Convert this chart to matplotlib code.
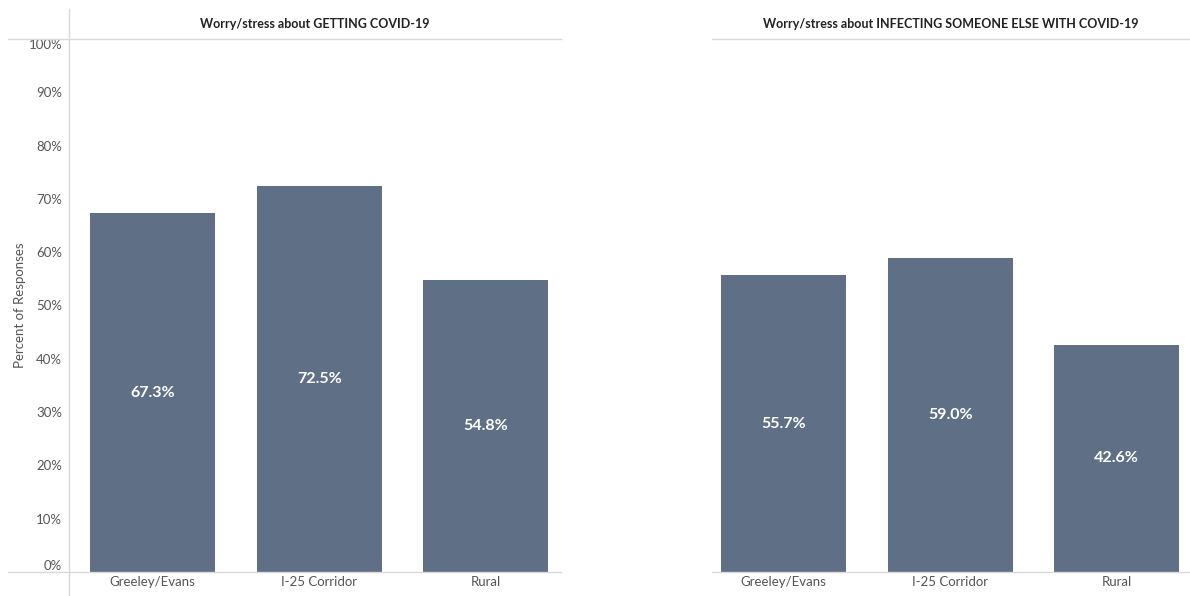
import matplotlib.pyplot as plt
from matplotlib.lines import Line2D
from matplotlib.ticker import PercentFormatter

plt.rcParams['font.family'] = ['Lato', 'DejaVu Sans']

regions = ['Greeley/Evans', 'I-25 Corridor', 'Rural']
getting_covid = [67.3, 72.5, 54.8]
infecting_others = [55.7, 59.0, 42.6]
titles = ['Worry/stress about GETTING COVID-19',
          'Worry/stress about INFECTING SOMEONE ELSE WITH COVID-19']
y_ticks = [0, 10, 20, 30, 40, 50, 60, 70, 80, 90, 100]

bar_color = '#5f6f86'
line_color = '#d9d9d9'
text_color = '#555555'

W, H = 1190, 596
fig = plt.figure(figsize=(W / 100, H / 100), dpi=100)

def px(x, y):
    return x / W, 1 - y / H

top, bottom = 39, 572
left_ax = fig.add_axes([69 / W, 1 - bottom / H, (561 - 69) / W, (bottom - top) / H])
right_ax = fig.add_axes([712 / W, 1 - bottom / H, (1190 - 712) / W, (bottom - top) / H])

panels = [(left_ax, getting_covid, titles[0], (-0.5, 2.45)),
          (right_ax, infecting_others, titles[1], (-0.43, 2.44))]

for ax, values, title, xlim in panels:
    x = range(len(regions))
    ax.bar(x, values, width=0.75, color=bar_color)
    for xi, v in zip(x, values):
        ax.text(xi, v / 2, f'{v:.1f}%', ha='center', va='center',
                color='white', fontsize=11.5, fontweight='bold')
    ax.set_xlim(*xlim)
    ax.set_ylim(0, 100)
    ax.set_xticks(list(x))
    ax.set_xticklabels(regions, fontsize=9.5, color=text_color)
    ax.tick_params(axis='x', length=0, pad=3)
    for s in ax.spines.values():
        s.set_visible(False)
    ax.set_title(title, fontsize=9, fontweight='bold', color='#222222', pad=8)

left_ax.set_yticks(y_ticks)
left_ax.yaxis.set_major_formatter(PercentFormatter(decimals=0))
left_ax.tick_params(axis='y', length=0, pad=5, labelsize=9.5, labelcolor=text_color)
# keep the end labels inside the plot area
ylabels = left_ax.get_yticklabels()
ylabels[0].set_verticalalignment('bottom')
ylabels[-1].set_verticalalignment('top')
left_ax.set_ylabel('Percent of Responses', fontsize=9.5, color=text_color, labelpad=2)

right_ax.set_yticks([])

# header and baseline rules, plus the left divider
for x0, x1 in [(8, 561), (712, 1190)]:
    for yy in (top, bottom):
        (a, b), (c, d) = px(x0, yy), px(x1, yy)
        fig.add_artist(Line2D([a, c], [b, d], color=line_color, lw=1))
(a, b), (c, d) = px(69, 9), px(69, 596)
fig.add_artist(Line2D([a, c], [b, d], color=line_color, lw=1))

fig.savefig('out.png', dpi=100)
